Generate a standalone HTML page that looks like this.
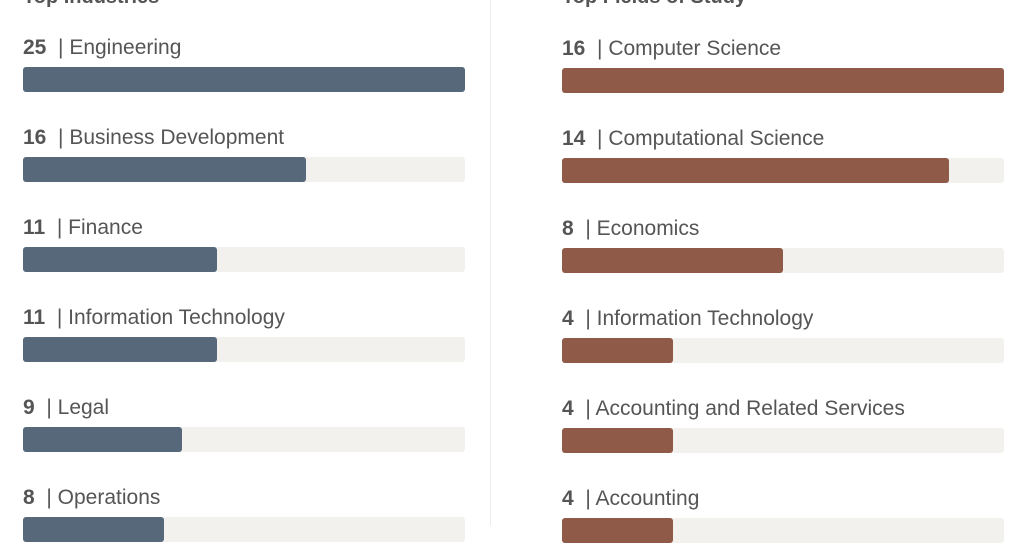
<!DOCTYPE html>
<html><head><meta charset="utf-8"><style>
body{margin:0;width:1021px;height:526px;overflow:hidden;background:#fff;font-family:"Liberation Sans",sans-serif;position:relative}
.lab{position:absolute;font-size:21px;color:#555;white-space:nowrap;line-height:24px}
.lab b{color:#555}
.track{position:absolute;height:25px;background:#f3f1ee;border-radius:3px}
.bar{position:absolute;height:25px;border-radius:3px}
.div{position:absolute;left:490px;top:0;width:1px;height:526px;background:#eee}
.head{position:absolute;top:-14px;font-size:20px;font-weight:bold;color:#555}
</style></head><body>
<div class="div"></div>
<div class="head" style="left:23px">Top Industries</div>
<div class="head" style="left:562px">Top Fields of Study</div>
<script>
const leftCats=["Engineering","Business Development","Finance","Information Technology","Legal","Operations"];
const leftVals=[25,16,11,11,9,8];
const rightCats=["Computer Science","Computational Science","Economics","Information Technology","Accounting and Related Services","Accounting"];
const rightVals=[16,14,8,4,4,4];
function panel(cats,vals,x0,y0,color,name){
  const w=442,max=Math.max(...vals);
  cats.forEach((c,i)=>{
    const y=y0+i*90;
    const l=document.createElement('div');l.className='lab';
    
    
    l.style.left=x0+'px';l.style.top=(y-31)+'px';
    l.innerHTML='<b>'+vals[i]+'</b>&nbsp; | '+c;document.body.appendChild(l);
    const t=document.createElement('div');t.className='track';
    
    
    t.style.left=x0+'px';t.style.top=y+'px';t.style.width=w+'px';document.body.appendChild(t);
    const b=document.createElement('div');b.className='bar';
    
    
    b.style.left=x0+'px';b.style.top=y+'px';b.style.width=(vals[i]/max*w)+'px';b.style.background=color;document.body.appendChild(b);
  });
}
panel(leftCats,leftVals,23,67,'#56687a','industry');
panel(rightCats,rightVals,562,68,'#8f5a48','field');
</script>
</body></html>
